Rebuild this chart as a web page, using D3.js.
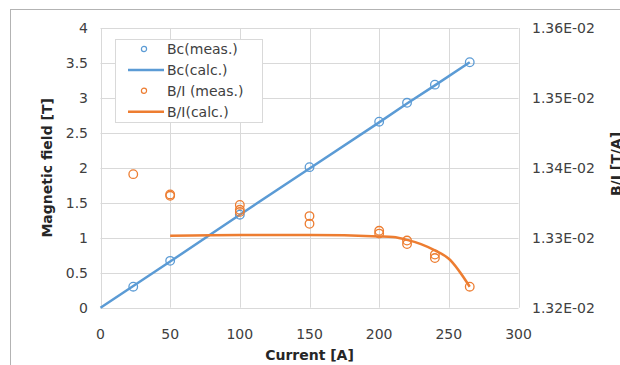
<!DOCTYPE html>
<html>
<head>
<meta charset="utf-8">
<script src="https://cdn.jsdelivr.net/npm/d3@7"></script>
<style>
	body { margin: 0; background: #fff; }
	svg { display: block; font-family: 'DejaVu Sans', Verdana, sans-serif; }
	.grid line { stroke: #d9d9d9; stroke-width: 1; }
	.tick-label { font-size: 14px; fill: #404040; }
	.axis-title { font-size: 14px; font-weight: bold; fill: #262626; }
	.legend-text { font-size: 14px; fill: #404040; }
</style>
</head>
<body>
<div id="chart"></div>
<script>
// measured field Bc
const bcCurrent = [23.5, 50, 100, 150, 200, 220, 240, 265]
const bcMeas = [0.30, 0.67, 1.33, 2.01, 2.66, 2.93, 3.19, 3.51]

// calculated field Bc
const bcCalcCurrent = [0, 50, 100, 150, 200, 220, 240, 265]
const bcCalc = [0, 0.66, 1.33, 1.99, 2.65, 2.92, 3.18, 3.51]

// measured B/I
const biCurrent = [23.5, 50, 50, 100, 100, 100, 150, 150, 200, 200, 220, 220, 240, 240, 265]
const biMeas = [0.013391, 0.013362, 0.013360, 0.013347, 0.013340, 0.013337, 0.013331, 0.013320,
	0.013310, 0.013306, 0.013296, 0.013291, 0.013276, 0.013271, 0.013230]

// calculated B/I
const biCalcCurrent = [50, 100, 150, 200, 210, 220, 230, 240, 250, 265]
const biCalc = [0.013303, 0.013304, 0.013304, 0.013302, 0.013301, 0.013297, 0.013291, 0.013282, 0.013270, 0.013230]

const xTicks = [0, 50, 100, 150, 200, 250, 300]
const yLeftTicks = [0, 0.5, 1, 1.5, 2, 2.5, 3, 3.5, 4]
const yRightTicks = [0.0132, 0.0133, 0.0134, 0.0135, 0.0136]

const legendItems = [
	{ label: 'Bc(meas.)', color: '#5B9BD5', type: 'dot' },
	{ label: 'Bc(calc.)', color: '#5B9BD5', type: 'line' },
	{ label: 'B/I (meas.)', color: '#ED7D31', type: 'dot' },
	{ label: 'B/I(calc.)', color: '#ED7D31', type: 'line' },
]

const BLUE = '#5B9BD5'
const ORANGE = '#ED7D31'
const WIDTH = 620
const HEIGHT = 365
const PLOT = { left: 100.5, right: 518.5, top: 28, bottom: 307.7 }

const svg = d3.select('#chart').append('svg').attr('width', WIDTH).attr('height', HEIGHT)

// outer chart frame (cut by the window on right and bottom)
svg.append('rect')
	.attr('x', 10.5).attr('y', 9.5)
	.attr('width', WIDTH).attr('height', HEIGHT)
	.attr('fill', 'none').attr('stroke', '#b3b3b3')

const x = d3.scaleLinear().domain([0, 300]).range([PLOT.left, PLOT.right])
const yL = d3.scaleLinear().domain([0, 4]).range([PLOT.bottom, PLOT.top])
const yR = d3.scaleLinear().domain([0.0132, 0.0136]).range([PLOT.bottom, PLOT.top])

// gridlines
const grid = svg.append('g').attr('class', 'grid')
grid.selectAll('line.h')
	.data(yLeftTicks)
	.join('line')
	.attr('x1', PLOT.left).attr('x2', PLOT.right)
	.attr('y1', d => Math.round(yL(d)) + 0.5).attr('y2', d => Math.round(yL(d)) + 0.5)
grid.selectAll('line.v')
	.data(xTicks)
	.join('line')
	.attr('x1', d => Math.round(x(d)) + 0.5).attr('x2', d => Math.round(x(d)) + 0.5)
	.attr('y1', PLOT.top).attr('y2', PLOT.bottom)

// tick labels
svg.append('g').selectAll('text')
	.data(xTicks)
	.join('text')
	.attr('class', 'tick-label')
	.attr('x', d => x(d))
	.attr('y', 339)
	.attr('text-anchor', 'middle')
	.text(d => d)

svg.append('g').selectAll('text')
	.data(yLeftTicks)
	.join('text')
	.attr('class', 'tick-label')
	.attr('x', 88)
	.attr('y', d => yL(d) + 5)
	.attr('text-anchor', 'end')
	.text(d => d)

svg.append('g').selectAll('text')
	.data(yRightTicks)
	.join('text')
	.attr('class', 'tick-label')
	.attr('x', 532)
	.attr('y', d => yR(d) + 5)
	.text(d => (d * 100).toFixed(2) + 'E-02')

// axis titles
svg.append('text')
	.attr('class', 'axis-title')
	.attr('x', (PLOT.left + PLOT.right) / 2)
	.attr('y', 360)
	.attr('text-anchor', 'middle')
	.text('Current [A]')

svg.append('text')
	.attr('class', 'axis-title')
	.attr('transform', `translate(52,${(PLOT.top + PLOT.bottom) / 2}) rotate(-90)`)
	.attr('text-anchor', 'middle')
	.text('Magnetic field [T]')

// right title is clipped by the window edge in the reference as well
svg.append('text')
	.attr('class', 'axis-title')
	.attr('transform', `translate(621,164) rotate(-90)`)
	.attr('text-anchor', 'middle')
	.text('B/I [T/A]')

// series
const content = svg.append('g').attr('id', 'content')

const bcLine = d3.line()
	.x((d, i) => x(bcCalcCurrent[i]))
	.y(d => yL(d))
content.append('path')
	.datum(bcCalc)
	.attr('d', bcLine)
	.attr('fill', 'none').attr('stroke', BLUE).attr('stroke-width', 2.5)

content.selectAll('.bc-dot')
	.data(bcMeas)
	.join('circle')
	.attr('class', 'bc-dot')
	.attr('cx', (d, i) => x(bcCurrent[i]))
	.attr('cy', d => yL(d))
	.attr('r', 4.3)
	.attr('fill', 'none').attr('stroke', BLUE).attr('stroke-width', 1.3)

const biLine = d3.line()
	.x((d, i) => x(biCalcCurrent[i]))
	.y(d => yR(d))
	.curve(d3.curveMonotoneX)
content.append('path')
	.datum(biCalc)
	.attr('d', biLine)
	.attr('fill', 'none').attr('stroke', ORANGE).attr('stroke-width', 2.5)

content.selectAll('.bi-dot')
	.data(biMeas)
	.join('circle')
	.attr('class', 'bi-dot')
	.attr('cx', (d, i) => x(biCurrent[i]))
	.attr('cy', d => yR(d))
	.attr('r', 4.3)
	.attr('fill', 'none').attr('stroke', ORANGE).attr('stroke-width', 1.3)

// legend
const legend = svg.append('g').attr('id', 'legend')
legend.append('rect')
	.attr('x', 115.5).attr('y', 39.5)
	.attr('width', 147).attr('height', 83)
	.attr('fill', '#fff').attr('stroke', '#d9d9d9')

const rows = legend.selectAll('g.row')
	.data(legendItems)
	.join('g')
	.attr('class', 'row')
	.attr('transform', (d, i) => `translate(0,${49 + i * 20.9})`)

rows.filter(d => d.type === 'dot')
	.append('circle')
	.attr('cx', 144).attr('cy', 0).attr('r', 2.6)
	.attr('fill', 'none').attr('stroke', d => d.color).attr('stroke-width', 1.2)

rows.filter(d => d.type === 'line')
	.append('line')
	.attr('x1', 128).attr('x2', 164)
	.attr('y1', 0).attr('y2', 0)
	.attr('stroke', d => d.color).attr('stroke-width', 2.5)

rows.append('text')
	.attr('class', 'legend-text')
	.attr('x', 167)
	.attr('y', 5)
	.text(d => d.label)
</script>
</body>
</html>
